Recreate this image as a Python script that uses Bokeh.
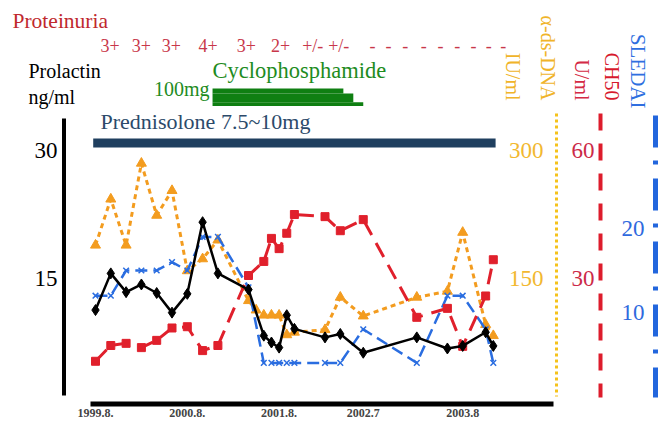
import numpy as np
from bokeh.plotting import figure
from bokeh.models import Range1d, FixedTicker
from bokeh.core.properties import value
from bokeh.embed import file_html
from bokeh.resources import INLINE

# ---------------- data ----------------
months = [0, 2, 4, 6, 8, 10, 12, 14, 16, 20, 22, 23, 24, 25, 26, 30, 32, 35, 42, 46, 48, 51, 52]
prolactin = [11.3, 15.6, 13.4, 14.3, 13.3, 11.0, 13.2, 21.6, 15.6, 13.7, 8.3, 7.5, 6.9, 10.7,
             9.1, 8.1, 8.5, 6.3, 8.1, 6.8, 7.1, 8.7, 7.1]
ch50 = [10.6, 14.3, 14.8, 13.8, 15.5, 18.4, 18.7, 13.1, 14.3, 30.7, 34.0, 39.4, 37.0, 40.6,
        45.0, 44.5, 41.2, 43.8, 20.9, 23.0, 14.1, 25.9, 34.4]
sledai = [12, 12, 15, 15, 15, 16, 15, 19, 19, 13, 4, 4, 4, 4, 4, 4, 4, 8, 4, 12, 12, 8, 4]
dsdna_months = [0, 2, 4, 6, 8, 10, 12, 14, 16, 20, 21, 22, 23, 24, 25, 26, 30, 32, 35, 42, 46, 48, 51, 52]
dsdna = [189, 243, 189, 285, 224, 253, 159, 173, 195, 124, 113, 107, 107, 107, 84, 87, 90,
         128, 106, 128, 135, 204, 96, 83]

tick_months = [0, 12, 24, 35, 48]
tick_labels = ["1999.8.", "2000.8.", "2001.8.", "2002.7", "2003.8"]
prolactin_ticks = [15, 30]
dsdna_ticks = [150, 300]
ch50_ticks = [30, 60]
sledai_ticks = [10, 20]

proteinuria_months = [1.9, 6.0, 9.9, 14.7, 19.7, 24.2, 28.4, 31.8, 36.2, 38.3, 40.5, 42.9,
                      45.1, 47.3, 49.4, 51.4, 53.3]
proteinuria = ["3+", "3+", "3+", "4+", "3+", "2+", "+/-", "+/-", "-", "-", "-", "-", "-",
               "-", "-", "-", "-"]
prednisolone_period = [-0.3, 52.3]
cyclo_start = 15.3
cyclo_ends = [32.4, 33.7, 35.0]

# ---------------- layout helpers (picture pixels -> data) ----------------
X0, XS = 95.0, 7.65
Y0, YS = 406.0, 128.0 / 15.0
S0, SS = 396.0, 8.4


def PX(px):
    return (px - X0) / XS


def PY(py):
    return (Y0 - py) / YS


W, H = 658, 425
LEFT_B, BOT_B = 0, 18
FL, FR, FT, FB = LEFT_B, W, 0, H - BOT_B

SERIF = value("Liberation Serif")

p = figure(width=W, height=H, output_backend="svg", toolbar_location=None,
           x_range=Range1d(PX(FL), PX(FR)), y_range=Range1d(PY(FB), PY(FT)),
           min_border_left=LEFT_B, min_border_right=0, min_border_top=0,
           min_border_bottom=BOT_B)
p.extra_y_ranges = {
    "dsdna": Range1d(10 * PY(FB), 10 * PY(FT)),
    "ch50": Range1d(2 * PY(FB), 2 * PY(FT)),
    "sledai": Range1d((S0 - FB) / SS, (S0 - FT) / SS),
}
p.grid.visible = False
p.outline_line_color = None
p.background_fill_color = "white"
p.border_fill_color = "white"
p.yaxis.visible = False

# bottom (date) axis
p.xaxis.ticker = FixedTicker(ticks=tick_months)
p.xaxis.major_label_overrides = {m: l for m, l in zip(tick_months, tick_labels)}
p.xaxis.axis_line_color = None
p.xaxis.major_tick_line_color = None
p.xaxis.major_tick_out = 0
p.xaxis.major_tick_in = 0
p.xaxis.minor_tick_line_color = None
p.xaxis.major_label_text_font = "Liberation Serif"
p.xaxis.major_label_text_font_style = "bold"
p.xaxis.major_label_text_font_size = "12px"
p.xaxis.major_label_standoff = 1

# axis lines drawn as glyphs
p.segment(x0=[PX(63.5)], y0=[PY(118)], x1=[PX(63.5)], y1=[PY(395)], line_color="black", line_width=4)
p.segment(x0=[PX(90)], y0=[PY(403.5)], x1=[PX(553)], y1=[PY(403.5)], line_color="black", line_width=5)
p.segment(x0=[PX(556)], y0=[PY(113)], x1=[PX(556)], y1=[PY(396)], line_color="#f5c21b",
          line_width=3, line_dash="3 3")
p.segment(x0=[PX(600)], y0=[PY(113)], x1=[PX(600)], y1=[PY(397)], line_color="#dd1c2c",
          line_width=4, line_dash="17 13")
p.segment(x0=[PX(655)], y0=[PY(115)], x1=[PX(655)], y1=[PY(397)], line_color="#2266dd",
          line_width=5, line_dash="32 13 4 14")

# tick labels of the four scales
p.text(x=[PX(57)] * 2, y=prolactin_ticks, text=[str(t) for t in prolactin_ticks],
       text_font=SERIF, text_font_size="23px", text_color="black", text_align="right",
       text_baseline="middle")
p.text(x=[PX(543)] * 2, y=dsdna_ticks, text=[str(t) for t in dsdna_ticks], y_range_name="dsdna",
       text_font=SERIF, text_font_size="23px", text_color="#f2b830", text_align="right",
       text_baseline="middle")
p.text(x=[PX(594)] * 2, y=ch50_ticks, text=[str(t) for t in ch50_ticks], y_range_name="ch50",
       text_font=SERIF, text_font_size="23px", text_color="#cc2a48", text_align="right",
       text_baseline="middle")
p.text(x=[PX(644)] * 2, y=sledai_ticks, text=[str(t) for t in sledai_ticks], y_range_name="sledai",
       text_font=SERIF, text_font_size="23px", text_color="#2f6ade", text_align="right",
       text_baseline="middle")


# rotated axis titles
def vtitle(px, py_end, txt, color, size="20px"):
    p.text(x=[PX(px)], y=[PY(py_end)], text=[txt], angle=-np.pi / 2, text_font=SERIF,
           text_font_size=size, text_color=color, text_align="right", text_baseline="middle")


vtitle(547, 100, "α-ds-DNA", "#f0b429")
vtitle(512, 100, "IU/ml", "#f0b429")
vtitle(611, 100, "CH50", "#d7192d")
vtitle(581, 100, "U/ml", "#d42a45")
vtitle(637, 108, "SLEDAI", "#2f6fe0", "21px")

# treatment bars
p.quad(left=[prednisolone_period[0]], right=[prednisolone_period[1]], bottom=[PY(147)], top=[PY(138)],
       fill_color="#1f3f5f", line_color=None)
cyc_rows = [(88, 93), (93, 101.7), (101.7, 105.5)]
p.quad(left=[cyclo_start] * 3, right=cyclo_ends, top=[PY(a) for a, b in cyc_rows],
       bottom=[PY(b) for a, b in cyc_rows], fill_color="#0f7f12", line_color=None)


# header texts
def htext(px, py, txt, color, size, align="left"):
    p.text(x=[PX(px)], y=[PY(py)], text=[txt], text_font=SERIF, text_font_size=size,
           text_color=color, text_align=align, text_baseline="middle")


htext(12, 20, "Proteinuria", "#c0282d", "21.5px")
htext(28, 70, "Prolactin", "black", "20px")
htext(28, 96, "ng/ml", "black", "20px")
htext(209, 88, "100mg", "#1e8c1e", "20px", "right")
htext(212, 70, "Cyclophosphamide", "#1e8c1e", "22.5px")
htext(100, 121, "Prednisolone 7.5~10mg", "#2c4a6a", "22px")

p.text(x=proteinuria_months, y=[PY(45)] * len(proteinuria_months), text=proteinuria,
       text_font=SERIF, text_font_size="18px", text_color="#c8374a", text_align="center",
       text_baseline="middle")

# ---------------- series ----------------
p.line(dsdna_months, dsdna, y_range_name="dsdna", line_color="#f39c1f", line_width=3, line_dash="5 4")
p.scatter(dsdna_months, dsdna, y_range_name="dsdna", marker="triangle", size=10,
          fill_color="#f39c1f", line_color="#f39c1f")

p.line(months, sledai, y_range_name="sledai", line_color="#2a6de0", line_width=2.5, line_dash="12 6")
p.scatter(months, sledai, y_range_name="sledai", marker="x", size=8, line_color="#2a6de0", line_width=1.5)

p.line(months, ch50, y_range_name="ch50", line_color="#e0202c", line_width=3, line_dash="16 9")
p.scatter(months, ch50, y_range_name="ch50", marker="square", size=8, fill_color="#e0202c",
          line_color="#e0202c")

p.line(months, prolactin, line_color="black", line_width=2.5)
p.scatter(months, prolactin, marker="diamond", size=11, fill_color="black", line_color="black")

open("out.html", "w").write(file_html(p, INLINE))
